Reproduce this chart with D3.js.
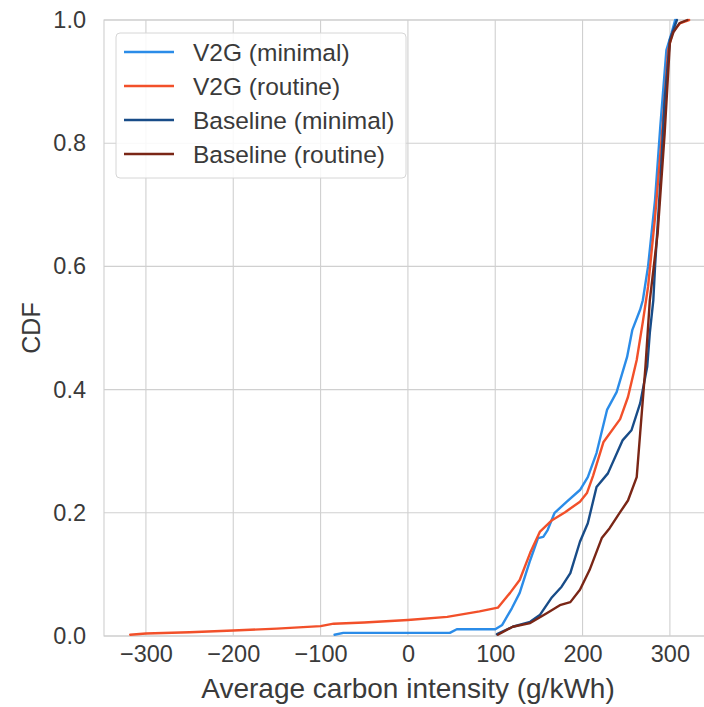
<!DOCTYPE html>
<html>
<head>
<meta charset="utf-8">
<script src="https://cdn.jsdelivr.net/npm/d3@7"></script>
<style>
  html, body { margin: 0; padding: 0; background: #fff; }
  svg { display: block; font-family: "Liberation Sans", Arial, sans-serif; }
</style>
</head>
<body>
<svg id="chart" width="704" height="707"></svg>
<script>
// ---- data ----
const seriesNames = ["V2G (minimal)", "V2G (routine)", "Baseline (minimal)", "Baseline (routine)"];
const seriesColors = ["#2b8ce8", "#f2502a", "#184c88", "#7a2616"];

const v2gMinimal = [
  [-84, 0.002], [-74, 0.005], [48, 0.005], [56, 0.011], [100, 0.011], [108, 0.018],
  [119, 0.045], [128, 0.07], [140, 0.123], [149, 0.159], [155, 0.161], [160, 0.172],
  [168, 0.2], [182, 0.218], [197, 0.237], [206, 0.258], [216, 0.297], [228, 0.367],
  [239, 0.396], [251, 0.453], [257, 0.497], [266, 0.53], [269, 0.545], [275, 0.6],
  [283, 0.708], [289, 0.827], [296, 0.951], [302, 0.979], [306, 1.0]
];
const v2gRoutine = [
  [-318, 0.002], [-300, 0.004], [-250, 0.006], [-200, 0.009], [-150, 0.012], [-100, 0.016],
  [-85, 0.02], [-50, 0.022], [0, 0.026], [45, 0.031], [82, 0.040], [103, 0.046],
  [117, 0.07], [128, 0.091], [140, 0.135], [151, 0.169], [165, 0.188], [180, 0.201],
  [197, 0.218], [205, 0.232], [212, 0.26], [224, 0.315], [243, 0.352], [252, 0.388],
  [262, 0.448], [269, 0.51], [275, 0.567], [283, 0.68], [291, 0.816], [298, 0.951],
  [303, 0.98], [312, 0.995], [322, 1.0]
];
const baselineMinimal = [
  [102, 0.003], [120, 0.015], [140, 0.023], [151, 0.034], [165, 0.063], [176, 0.08],
  [186, 0.102], [197, 0.153], [206, 0.183], [216, 0.242], [229, 0.264], [246, 0.318],
  [256, 0.334], [266, 0.378], [274, 0.437], [277, 0.492], [281, 0.545], [283, 0.6],
  [289, 0.735], [294, 0.87], [300, 0.968], [308, 1.0]
];
const baselineRoutine = [
  [103, 0.002], [120, 0.015], [140, 0.021], [159, 0.037], [174, 0.05], [186, 0.055],
  [197, 0.075], [208, 0.107], [222, 0.159], [231, 0.175], [243, 0.201], [252, 0.22],
  [262, 0.258], [266, 0.33], [272, 0.437], [277, 0.545], [286, 0.654], [294, 0.816],
  [300, 0.963], [304, 0.98], [311, 0.995], [320, 1.0]
];
const seriesData = [v2gMinimal, v2gRoutine, baselineMinimal, baselineRoutine];

const xTicks = [-300, -200, -100, 0, 100, 200, 300];
const yTicks = [0, 0.2, 0.4, 0.6, 0.8, 1.0];
const xDomain = [-348, 350];
const yDomain = [0, 1];

// ---- layout ----
const svg = d3.select("#chart");
const plotLeft = 104, plotTop = 20, plotBottom = 636;
const x = d3.scaleLinear().domain(xDomain).range([plotLeft, plotLeft + (xDomain[1] - xDomain[0]) * 0.8733]);
const y = d3.scaleLinear().domain(yDomain).range([plotBottom, plotTop]);
const plotRight = x.range()[1];
const textColor = "#3a3a3a";
const tickFont = 23.5;

// grid
const grid = svg.append("g");
grid.selectAll(".vg").data(xTicks).join("line")
  .attr("x1", d => x(d)).attr("x2", d => x(d))
  .attr("y1", plotTop).attr("y2", plotBottom)
  .attr("stroke", "#d0d0d0").attr("stroke-width", 1.1);
grid.selectAll(".hg").data(yTicks).join("line")
  .attr("x1", plotLeft).attr("x2", plotRight)
  .attr("y1", d => y(d)).attr("y2", d => y(d))
  .attr("stroke", "#d0d0d0").attr("stroke-width", 1.1);

// frame (spines)
svg.append("rect")
  .attr("x", plotLeft).attr("y", plotTop)
  .attr("width", plotRight - plotLeft).attr("height", plotBottom - plotTop)
  .attr("fill", "none").attr("stroke", "#cfcfcf").attr("stroke-width", 1.1);

// axes
const xAxis = d3.axisBottom(x).tickValues(xTicks).tickSize(0).tickPadding(9).tickFormat(d3.format("d"));
const gx = svg.append("g").attr("transform", `translate(0,${plotBottom})`).call(xAxis);
gx.select(".domain").remove();
gx.selectAll("text").attr("font-size", tickFont).attr("fill", textColor)
  .attr("font-family", "Liberation Sans, Arial, sans-serif");

const yAxis = d3.axisLeft(y).tickValues(yTicks).tickSize(0).tickPadding(18).tickFormat(d3.format(".1f"));
const gy = svg.append("g").attr("transform", `translate(${plotLeft},0)`).call(yAxis);
gy.select(".domain").remove();
gy.selectAll("text").attr("font-size", tickFont).attr("fill", textColor)
  .attr("font-family", "Liberation Sans, Arial, sans-serif");

// axis labels
svg.append("text")
  .attr("x", 408).attr("y", 698)
  .attr("text-anchor", "middle")
  .attr("font-size", 28).attr("fill", textColor)
  .text("Average carbon intensity (g/kWh)");
svg.append("text")
  .attr("transform", `translate(40,${(plotTop + plotBottom) / 2}) rotate(-90)`)
  .attr("text-anchor", "middle")
  .attr("font-size", 25).attr("fill", textColor)
  .text("CDF");

// lines
svg.append("clipPath").attr("id", "plotclip")
  .append("rect").attr("x", plotLeft).attr("y", plotTop - 3)
  .attr("width", plotRight - plotLeft).attr("height", plotBottom - plotTop + 6);
const line = d3.line().x(d => x(d[0])).y(d => y(d[1]));
svg.append("g").attr("clip-path", "url(#plotclip)")
  .selectAll("path").data(seriesData).join("path")
  .attr("d", line)
  .attr("fill", "none")
  .attr("stroke", (d, i) => seriesColors[i])
  .attr("stroke-width", 2.4)
  .attr("stroke-linejoin", "round")
  .attr("stroke-linecap", "round");

// legend
const lg = svg.append("g");
lg.append("rect")
  .attr("x", 116).attr("y", 33).attr("width", 290).attr("height", 145)
  .attr("rx", 4).attr("fill", "rgba(255,255,255,0.85)")
  .attr("stroke", "#d6d6d6").attr("stroke-width", 1);
const items = lg.selectAll(".item").data(seriesNames).join("g")
  .attr("transform", (d, i) => `translate(0,${52 + i * 34})`);
items.append("line")
  .attr("x1", 124).attr("x2", 174).attr("y1", 0).attr("y2", 0)
  .attr("stroke", (d, i) => seriesColors[i]).attr("stroke-width", 2.4);
items.append("text")
  .attr("x", 193).attr("y", 0).attr("dy", "0.35em")
  .attr("font-size", 24.5).attr("fill", textColor)
  .text(d => d);
</script>
</body>
</html>
